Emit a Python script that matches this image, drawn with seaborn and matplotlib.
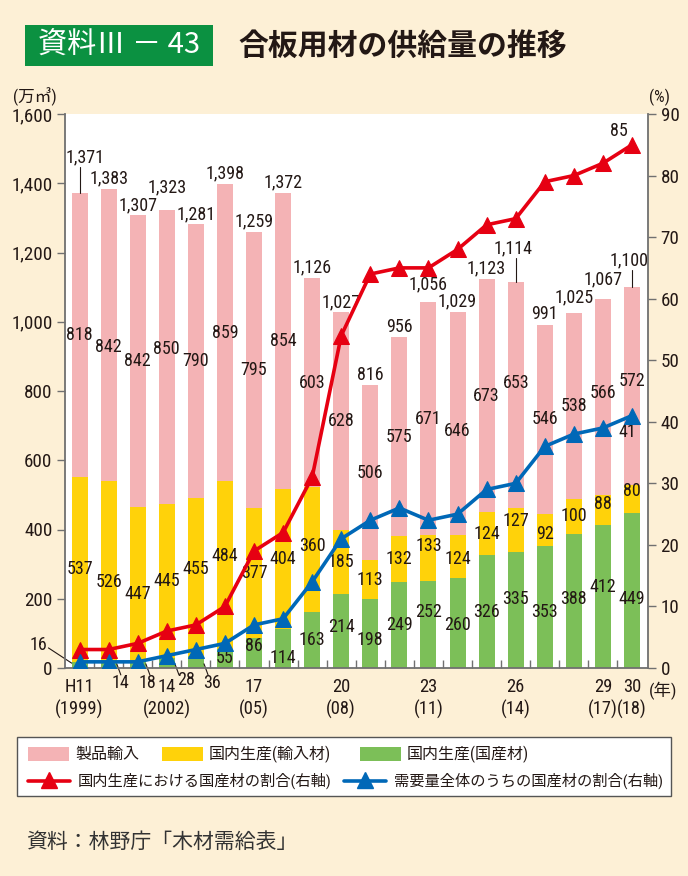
import os
import numpy as np
import pandas as pd
import matplotlib
matplotlib.use("Agg")
import matplotlib.pyplot as plt
import seaborn as sns
from matplotlib import font_manager
from matplotlib.font_manager import FontProperties
from matplotlib.patches import Rectangle
from matplotlib.lines import Line2D

# ---------------- data ----------------
years = ["H11", "H12", "H13", "H14", "H15", "H16", "H17", "H18", "H19", "H20",
         "H21", "H22", "H23", "H24", "H25", "H26", "H27", "H28", "H29", "H30"]
x_tick_top = ["H11", "", "", "14", "", "", "17", "", "", "20", "", "", "23", "",
              "", "26", "", "", "29", "30"]
x_tick_bottom = ["(1999)", "", "", "(2002)", "", "", "(05)", "", "", "(08)", "",
                 "", "(11)", "", "", "(14)", "", "", "(17)", "(18)"]
domestic_wood = [16, 14, 18, 28, 36, 55, 86, 114, 163, 214, 198, 249, 252, 260,
                 326, 335, 353, 388, 412, 449]
domestic_imported = [537, 526, 447, 445, 455, 484, 377, 404, 360, 185, 113, 132,
                     133, 124, 124, 127, 92, 100, 88, 80]
product_imports = [818, 842, 842, 850, 790, 859, 795, 854, 603, 628, 506, 575,
                   671, 646, 673, 653, 546, 538, 566, 572]
totals = [1371, 1383, 1307, 1323, 1281, 1398, 1259, 1372, 1126, 1027, 816, 956,
          1056, 1029, 1123, 1114, 991, 1025, 1067, 1100]
share_production = [3, 3, 4, 6, 7, 10, 19, 22, 31, 54, 64, 65, 65, 68, 72, 73,
                    79, 80, 82, 85]
share_demand = [1, 1, 1, 2, 3, 4, 7, 8, 14, 21, 24, 26, 24, 25, 29, 30, 36, 38,
                39, 41]
left_ticks = [0, 200, 400, 600, 800, 1000, 1200, 1400, 1600]
right_ticks = [0, 10, 20, 30, 40, 50, 60, 70, 80, 90]

legend_labels = ["製品輸入", "国内生産(輸入材)", "国内生産(国産材)",
                 "国内生産における国産材の割合(右軸)",
                 "需要量全体のうちの国産材の割合(右軸)"]

# ---------------- fonts ----------------
sns.set_theme(style="white")
CJK = "Noto Sans CJK JP"

def find_narrow():
    prefs = [("liberationsansnarrow-regular", 13.0),
             ("robotocondensed-regular", 13.0),
             ("opensanscondensed", 12.5),
             ("dejavusanscondensed.ttf", 12.3)]
    files = [f.fname for f in font_manager.fontManager.ttflist]
    for key, size in prefs:
        for fn in files:
            if key in os.path.basename(fn).lower():
                return fn, size
    for fn in font_manager.findSystemFonts():
        b = os.path.basename(fn).lower()
        for key, size in prefs:
            if key in b:
                return fn, size
    return None, 11.5

narrow_file, NUM_SIZE = find_narrow()
if narrow_file:
    try:
        font_manager.fontManager.addfont(narrow_file)
    except Exception:
        pass
    NUM_NAME = FontProperties(fname=narrow_file).get_name()
else:
    NUM_NAME = "Liberation Sans"

plt.rcParams["font.family"] = [NUM_NAME, CJK, "DejaVu Sans"]
MIX = [NUM_NAME, CJK, "DejaVu Sans"]

BG = "#FDF0D6"
PINK = "#F4B3B5"
YELLOW = "#FFD20A"
GREEN = "#7CBF58"
RED = "#E60012"
BLUE = "#0068B7"
TXT = "#231815"
SPINE = "#707070"

W, H = 688, 876
fig = plt.figure(figsize=(W / 100, H / 100), dpi=100, facecolor=BG)

def fx(px):
    return px / W

def fy(py):
    return 1 - py / H

AX_TOP, AX_BOT = 114, 668
ax = fig.add_axes([fx(65), fy(AX_BOT), fx(648) - fx(65), fy(AX_TOP) - fy(AX_BOT)])
ax.set_facecolor("white")

wood = np.array(domestic_wood)
imp = np.array(domestic_imported)
prod = np.array(product_imports)
df = pd.DataFrame({"year": years, "total": totals, "mid": wood + imp, "wood": wood})

common = dict(ax=ax, width=0.55, saturation=1, linewidth=0, order=years)
sns.barplot(data=df, x="year", y="total", color=PINK, **common)
sns.barplot(data=df, x="year", y="mid", color=YELLOW, **common)
sns.barplot(data=df, x="year", y="wood", color=GREEN, **common)

n = len(years)
ax.set_xlim(-0.5, 19.55)
ax.set_ylim(0, 1600)
ax.set_xlabel("")
ax.set_ylabel("")
ax.set_yticks(left_ticks)
ax.set_yticklabels([f"{v:,}" for v in left_ticks])
ax.set_xticks(range(n))
ax.set_xticklabels(x_tick_top)
ax.set_xticks(np.arange(0.5, n - 1, 1.0), minor=True)
ax.tick_params(axis="y", which="major", direction="out", length=6, width=1,
               color=SPINE, labelsize=NUM_SIZE + 0.7, labelcolor=TXT, pad=3, left=True)
ax.tick_params(axis="x", which="major", length=0, labelsize=NUM_SIZE + 0.3,
               labelcolor=TXT, pad=7)
ax.tick_params(axis="x", which="minor", direction="in", length=6, width=1,
               color=SPINE, bottom=True)
for i, s in enumerate(x_tick_bottom):
    if s:
        ax.text(i, -(709 - AX_BOT) / (AX_BOT - AX_TOP), s, transform=ax.get_xaxis_transform(),
                ha="center", va="center", fontsize=NUM_SIZE + 0.3, color=TXT,
                family=MIX, clip_on=False)
for s in ["top", "right"]:
    ax.spines[s].set_visible(False)
for s in ["left", "bottom"]:
    ax.spines[s].set_color(SPINE)
    ax.spines[s].set_linewidth(1.3)

# ---------------- value labels ----------------
lab = dict(ha="center", va="center", fontsize=NUM_SIZE, color=TXT, family=MIX)
GAP = 36


def declutter(ys, lows, highs, active):
    ys = list(ys)
    prev = None
    for i in range(len(ys)):
        if not active[i]:
            prev = None
            continue
        if prev is not None and abs(ys[i] - ys[prev]) < GAP:
            if ys[i] >= ys[prev]:
                cand = ys[prev] + GAP
            else:
                cand = ys[prev] - GAP
            if lows[i] <= cand <= highs[i]:
                ys[i] = cand
        prev = i
    return ys


pink_y = declutter(wood + imp + prod / 2, wood + imp + 18, np.array(totals) - 18, [True] * n)
yel_y = declutter(wood + imp / 2, wood + 18, wood + imp - 18, [True] * n)
grn_active = [w >= 50 for w in domestic_wood]
grn_y = declutter(wood / 2, np.full(n, 18), wood - 18, grn_active)

for i in range(n):
    ax.text(i, pink_y[i], str(product_imports[i]), **lab)
    ax.text(i, yel_y[i], str(domestic_imported[i]), **lab)
    if grn_active[i]:
        ax.text(i, grn_y[i], str(domestic_wood[i]), **lab)

# total labels (leader lines for a few)
leader = {0: 75, 15: 70, 19: 50}
tot_y = []
for i, t in enumerate(totals):
    tot_y.append(t + leader[i] + 28 if i in leader else t + 30)
for i in range(1, n):
    if i in leader or (i - 1) in leader:
        continue
    if abs(tot_y[i] - tot_y[i - 1]) < 40:
        if totals[i] >= totals[i - 1]:
            tot_y[i] = tot_y[i - 1] + 50
        else:
            tot_y[i - 1] = tot_y[i] + 50
for i, t in enumerate(totals):
    if i in leader:
        ax.plot([i, i], [t, t + leader[i]], color=TXT, lw=0.8)
        ax.text(i + (0.2 if i == 0 else -0.1), tot_y[i], f"{t:,}", **lab)
    else:
        ax.text(i, tot_y[i], f"{t:,}", **lab)

# small domestic-wood labels with leader lines
ax.plot([-1.07, -0.27], [58, 14], color=TXT, lw=0.8, clip_on=False)
ax.text(-1.42, 66, str(domestic_wood[0]), **lab)
for i, dx, yy in zip(range(1, 5), [0.42, 0.33, 0.68, 0.55], [-42, -42, -36, -42]):
    ax.plot([i + 0.28, i + 0.42], [12, -20], color=TXT, lw=0.8, clip_on=False)
    t = ax.text(i + dx, yy, str(domestic_wood[i]), **lab)
    t.set_clip_on(False)

# ---------------- right axis lines ----------------
ax2 = ax.twinx()
xs = np.arange(n)
sns.lineplot(x=xs, y=share_production, ax=ax2, color=RED, lw=2.6, marker="^",
             markersize=11, markeredgecolor=RED, markerfacecolor=RED, zorder=5)
sns.lineplot(x=xs, y=share_demand, ax=ax2, color=BLUE, lw=2.6, marker="^",
             markersize=11, markeredgecolor=BLUE, markerfacecolor=BLUE, zorder=5)
ax2.set_ylim(0, 90)
ax2.set_xlim(-0.5, 19.55)
ax2.set_yticks(right_ticks)
ax2.set_yticklabels([str(v) for v in right_ticks])
ax2.set_ylabel("")
ax2.tick_params(axis="y", direction="out", length=6, width=1, color=SPINE,
                labelsize=NUM_SIZE + 0.7, labelcolor=TXT, pad=3, right=True)
for s in ["top", "left", "bottom"]:
    ax2.spines[s].set_visible(False)
ax2.spines["right"].set_color(SPINE)
ax2.spines["right"].set_linewidth(1.3)
ax2.grid(False)
ax.grid(False)

ax2.text(18.55, 87.3, str(share_production[-1]), **lab)
ax2.text(18.85, 38.3, str(share_demand[-1]), **lab)

# axis units
fig.text(fx(13), fy(97), "(万㎥)", ha="left", va="center", fontsize=12,
         color=TXT, family=MIX)
fig.text(fx(649), fy(97), "(%)", ha="left", va="center", fontsize=12,
         color=TXT, family=MIX)
fig.text(fx(649), fy(691), "(年)", ha="left", va="center", fontsize=12.5,
         color=TXT, family=MIX)

# ---------------- title ----------------
fig.patches.append(Rectangle((fx(25), fy(66)), fx(213) - fx(25), fy(25) - fy(66),
                             transform=fig.transFigure, facecolor="#0B9141",
                             edgecolor="none"))
fig.text(fx(119), fy(46), "資料Ⅲ － 43", ha="center", va="center", fontsize=21,
         color="white", family=[CJK])
fig.text(fx(238), fy(46), "合板用材の供給量の推移", ha="left", va="center",
         fontsize=21.5, color=TXT, family=[CJK], fontweight="bold")

# ---------------- legend ----------------
fig.patches.append(Rectangle((fx(17), fy(796)), fx(671) - fx(17), fy(737) - fy(796),
                             transform=fig.transFigure, facecolor="white",
                             edgecolor="#555555", lw=1.0))
r1, r2 = 754, 781
for (x0, col), label in zip([(28, PINK), (162, YELLOW), (360, GREEN)], legend_labels[:3]):
    fig.patches.append(Rectangle((fx(x0), fy(r1 + 7)), fx(41), 14 / H,
                                 transform=fig.transFigure, facecolor=col,
                                 edgecolor="none"))
    fig.text(fx(x0 + 47), fy(r1), label, ha="left", va="center", fontsize=11.5,
             color=TXT, family=MIX)
for (x0, x1, col), label in zip([(28, 70, RED), (344, 386, BLUE)], legend_labels[3:]):
    fig.lines.append(Line2D([fx(x0), fx(x1)], [fy(r2), fy(r2)],
                            transform=fig.transFigure, color=col, lw=2.6))
    fig.lines.append(Line2D([fx((x0 + x1) / 2)], [fy(r2 - 1)],
                            transform=fig.transFigure, color=col, marker="^",
                            markersize=11, lw=0))
    fig.text(fx(x1 + 8), fy(r2), label, ha="left", va="center", fontsize=11,
             color=TXT, family=MIX)

# source
fig.text(fx(26), fy(842), "資料：林野庁「木材需給表」", ha="left", va="center",
         fontsize=15, color="#333333", family=[CJK])

fig.savefig("out.png", dpi=100, facecolor=BG)
